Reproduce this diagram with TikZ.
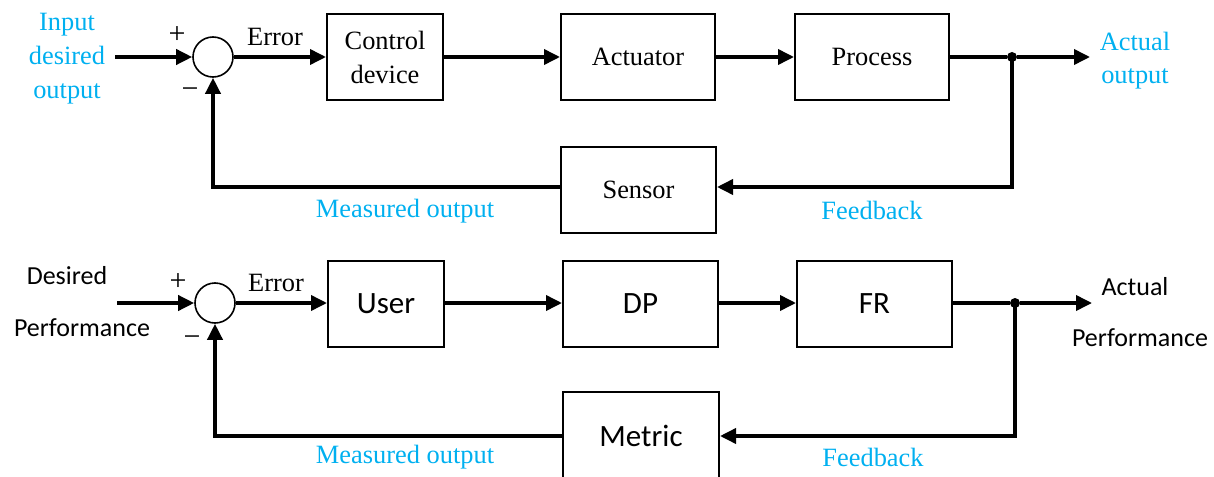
\documentclass[tikz,border=0pt]{standalone}
\usepackage{fontspec}
\setmainfont{Liberation Serif}
\newfontfamily\calfont{Carlito}
\usetikzlibrary{arrows.meta,calc}
\definecolor{labelblue}{RGB}{0,176,240}

\begin{document}
\begin{tikzpicture}[x=0.5pt,y=-0.5pt,
  serif/.style={font=\fontsize{13.2}{17}\selectfont},
  sans/.style={font=\calfont\fontsize{13}{17}\selectfont},
  sansbox/.style={font=\calfont\fontsize{15.5}{18}\selectfont},
  block/.style={draw, line width=1pt, inner sep=0pt, align=center, minimum height=43pt},
  narrow/.style={block, minimum width=58pt},
  wide/.style={block, minimum width=77pt},
  sumnode/.style={draw, circle, line width=0.8pt, minimum size=20pt, inner sep=0pt},
  dot/.style={circle, fill, inner sep=0pt, minimum size=5pt},
  wire/.style={line width=1.8pt},
  arrow/.style={wire, -{Triangle[length=8pt,width=7.5pt]}},
  note/.style={serif, inner sep=0pt, align=center},
  sign/.style={inner sep=0pt, font=\fontsize{15}{17}\selectfont},
  bluenote/.style={note, text=labelblue},
]
\useasboundingbox (0,0) rectangle (1214,476);

% ---------- classical feedback loop ----------
\node[sumnode] (sum1) at (213,57) {};
\node[narrow, serif] (ctrl) at (385,57) {Control\\device};
\node[wide, serif] (act) at (638,57) {Actuator};
\node[wide, serif] (proc) at (872,57) {Process};
\node[wide, serif, minimum width=77.5pt] (sensor) at (638.5,189.5) {Sensor};
\node[dot] (j1) at (1012,57) {};
\coordinate (in1) at (115,57);
\coordinate (out1) at (1090,57);
\coordinate (fb1) at (1012,187);
\coordinate (mo1) at (213,187);

\draw[arrow] (in1) -- (sum1);
\draw[arrow] (sum1) -- (ctrl);
\draw[arrow] (ctrl) -- (act);
\draw[arrow] (act) -- (proc);
\draw[wire] (proc) -- (j1);
\draw[arrow] (j1) -- (out1);
\draw[arrow] (j1.center) -- (fb1) -- (sensor.east |- fb1);
\draw[arrow] (sensor.west |- mo1) -- (mo1) -- (sum1);

\node[bluenote, font=\fontsize{13.2}{17}\selectfont] (inlbl1) at (67,59) {Input\\desired\\output};
\node[sign] (plus1) at (177,35) {+};
\node[sign] (minus1) at (190,93) {−};
\node[note] (err1) at (275,37) {Error};
\node[bluenote, font=\fontsize{13.2}{16.5}\selectfont] (outlbl1) at (1135,61) {Actual\\output};
\node[bluenote] (mo1lbl) at (405,211) {Measured output};
\node[bluenote] (fb1lbl) at (872,210) {Feedback};

% ---------- user performance loop ----------
\node[sumnode] (sum2) at (215,303) {};
\node[narrow, sansbox] (user) at (386,304) {User};
\node[wide, sansbox, minimum width=77.5pt] (dp) at (640.5,304) {DP};
\node[wide, sansbox, minimum width=77.5pt] (fr) at (874.5,304) {FR};
\node[wide, sansbox, minimum width=78pt, minimum height=44pt] (metric) at (641,436) {Metric};
\node[dot] (j2) at (1015,303) {};
\coordinate (in2) at (117,303);
\coordinate (out2) at (1092,303);
\coordinate (fb2) at (1015,436);
\coordinate (mo2) at (215,436);

\draw[arrow] (in2) -- (sum2);
\draw[arrow] (sum2) -- (user.west |- sum2);
\draw[arrow] (user.east |- sum2) -- (dp.west |- sum2);
\draw[arrow] (dp.east |- sum2) -- (fr.west |- sum2);
\draw[wire] (fr.east |- sum2) -- (j2);
\draw[arrow] (j2) -- (out2);
\draw[arrow] (j2.center) -- (fb2) -- (metric.east |- fb2);
\draw[arrow] (metric.west |- mo2) -- (mo2) -- (sum2);

\node[sans, inner sep=0pt] (des) at (67,276) {Desired};
\node[sans, inner sep=0pt] (perf1) at (82,328) {Performance};
\node[sign] (plus2) at (178,282) {+};
\node[sign] (minus2) at (192,341) {−};
\node[note] (err2) at (276,283) {Error};
\node[sans, inner sep=0pt] (act2) at (1135,287) {Actual};
\node[sans, inner sep=0pt] (perf2) at (1140,338) {Performance};
\node[bluenote] (mo2lbl) at (405,457) {Measured output};
\node[bluenote] (fb2lbl) at (873,457) {Feedback};
\end{tikzpicture}
\end{document}
